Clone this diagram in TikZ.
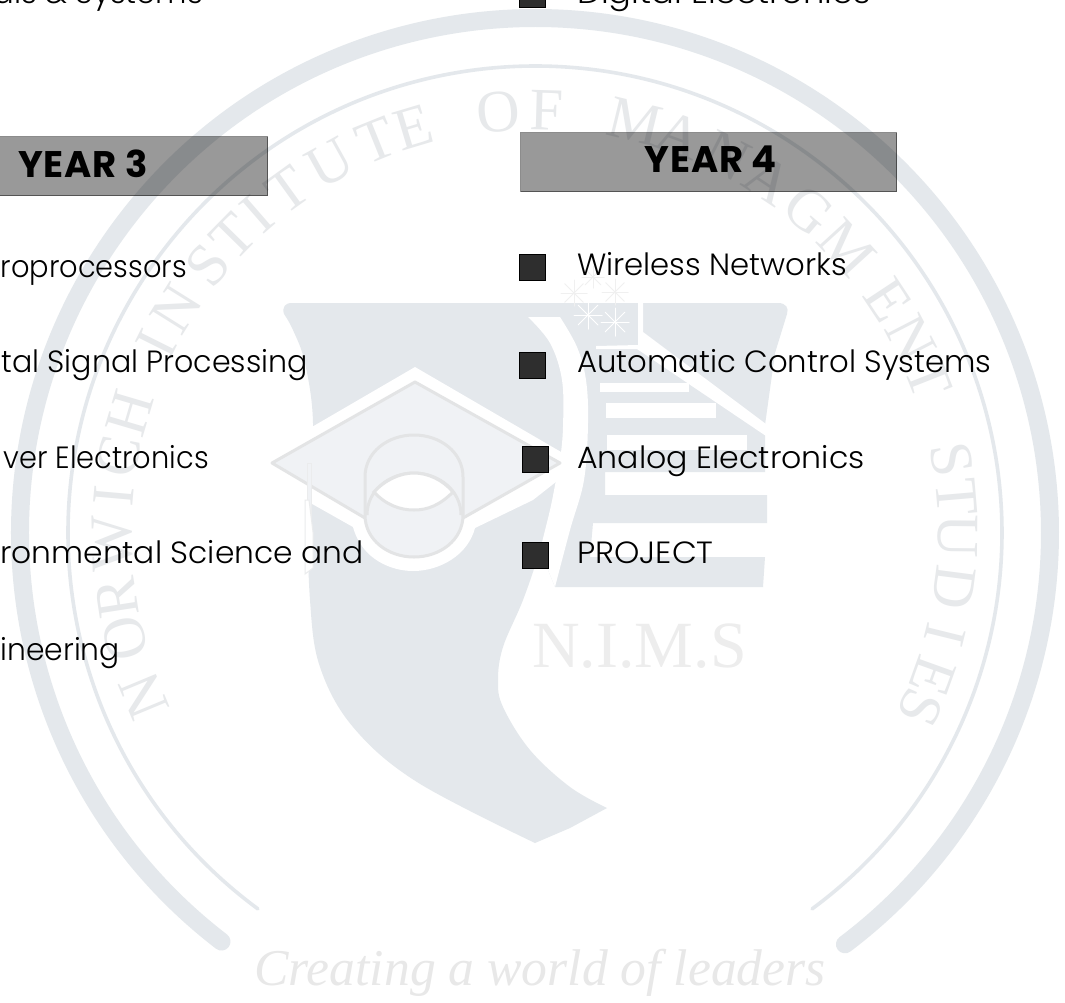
\documentclass[tikz,border=0pt]{standalone}
\usepackage{graphicx}
\usepackage{fontspec}
\usetikzlibrary{backgrounds,calc}
\setmainfont{Liberation Serif}
\newfontfamily\bodyfont[UprightFont={* Light},BoldFont={* Bold},LetterSpace=0]{Poppins}
\newfontfamily\yearfont[UprightFont={* Bold},LetterSpace=2]{Poppins}
\newcommand{\hfit}[2]{\scalebox{#1}[1]{#2}}
\definecolor{wm}{HTML}{E4E8EC}
\definecolor{wmtext}{HTML}{E7E9EB}
\definecolor{capfill}{HTML}{F0F2F5}
\definecolor{capline}{HTML}{E3E4E5}
\tikzset{
  ringline/.style={wm,line cap=round,line width=#1},
  sealletter/.style={inner sep=0pt,text=wmtext,font=\fontsize{60}{60}\selectfont},
  bartag/.style={draw=black!45,fill=black!40,line width=1pt,inner sep=0pt,anchor=north west},
  bul/.style={draw=black,fill=black!82,line width=1pt,inner sep=0pt,minimum width=26pt,minimum height=26pt},
  item/.style={inner sep=0pt,text=black,font=\bodyfont\fontsize{30.7}{31}\selectfont},
  yeartag/.style={inner sep=0pt,anchor=base,text=black,font=\yearfont\fontsize{37}{37}\selectfont},
  starray/.style={line width=1pt,line cap=round},
}
\begin{document}
\begin{tikzpicture}[x=1pt,y=-1pt]
\useasboundingbox (0,0) rectangle (1065,1002);
\clip (0,0) rectangle (1065,1002);
\fill[white] (0,0) rectangle (1065,1002);
% rings
\begin{scope}[y=1pt]
\draw[ringline=18pt] (535,-533) ++(232.5:515) arc[start angle=232.5,end angle=-53,radius=515];
\draw[ringline=3.6pt] (535,-533) ++(233.6:467) arc[start angle=233.6,end angle=-53.6,radius=467];
\foreach \l/\a [count=\i] in {N/202.6,O/194.5,R/188.8,W/181.4,I/175,C/169.5,H/163.5,I/153.5,N/148,S/140.7,T/135.5,I/131,T/125.8,U/119,T/112,E/106.7,O/95,F/88.4,M/76.3,A/70,N/63,A/56.5,G/49.6,M/42.4,E/33.5,N/27.4,T/21.5,S/10,T/4.9,U/-0.5,D/-7.4,I/-13.9,E/-19.8,S/-24.4}{
  \pgfmathsetmacro\ang{\a-90}
  \node[sealletter,rotate=\ang] (seal\i) at ($(535,-533)+(\a:423)$) {\l};
}
\end{scope}
% shield
\fill[wm] (400,303) -- (778,303) .. controls (786,303) and (789,308) .. (787,314) -- (775,353) -- (765,425) -- (765,472) -- (605,472) -- (605,495) -- (767,495) -- (767,523) -- (593,523) -- (590,557) -- (765,557) -- (763,587) -- (555,587) -- (540,550) -- (400,550) -- cycle;
\fill[wm] plot[smooth,tension=0.6] coordinates {(556,480) (550,510) (540,550) (523,600) (503,647) (498,680) (503,707) (530,750) (570,787) (607,808)}
  -- (570,828) -- (535,843)
  -- plot[smooth,tension=0.6] coordinates {(535,843) (417,782) (353,727) (320,667) (310,600) (308,507) (313,423) (305,363) (293,330) (284,314)} .. controls (282,307) and (285,303) .. (292,303) -- (556,303) -- cycle;
% swoosh and cuts
\fill[white] plot[smooth,tension=0.6] coordinates {(528,317) (550,343) (562,380) (563,427) (560,460) (556,480) (550,510) (540,550)}
  -- plot[smooth,tension=0.6] coordinates {(555,587) (570,530) (584,480) (588,423) (586,380) (577,347) (560,317)} -- cycle;
\fill[white] (638,303) -- (643,303) -- (643,332) -- (766,424) -- (766,436) -- (637,349) -- (596,349) -- (596,346) -- (638,345) -- cycle;
\fill[white] (600,383) rectangle (689,392);
\fill[white] (606,403) rectangle (716,418);
\fill[white] (607,435) rectangle (747,450);
% stars
\foreach \sx/\sy/\sr/\sc in {574/293/13/black!6,615/292/13/black!6,593/277/11/black!6,588/315/14/white,615/322/14/white}{
  \foreach \t in {0,45,...,315}{
    \draw[starray,\sc] (\sx,\sy) -- ++(\t:\sr);
  }
}
% cap
\fill[white] (415,367) -- (250,463) -- (252,470) -- (353,527) .. controls (362,560) and (392,571) .. (413,571) .. controls (440,571) and (468,555) .. (475,528) -- (533,500) -- (580,463) -- cycle;
\draw[capline,fill=capfill,line width=3pt,line join=round] (415,382) -- (272,463) -- (365,518) -- (463,518) -- (560,463) -- cycle;
\draw[capline,fill=capfill,line width=3pt] (365,515) -- (365,477) .. controls (365,452) and (388,435) .. (414,435) .. controls (440,435) and (463,452) .. (463,477) -- (463,515) .. controls (463,540) and (440,557) .. (414,557) .. controls (388,557) and (365,540) .. (365,515) -- cycle;
\draw[capline,line width=3pt] (367,515) .. controls (367,490) and (390,473) .. (414,473) .. controls (438,473) and (461,490) .. (461,515);
\draw[capline,fill=white,line width=3pt] (374,492) .. controls (385,480) and (400,473) .. (414,473) .. controls (428,473) and (443,480) .. (453,492) .. controls (440,505) and (428,510) .. (414,510) .. controls (400,510) and (386,505) .. (374,492) -- cycle;
\draw[capline!70,fill=capfill,line width=1pt] (307,463) rectangle (311,533);
\draw[capline!70,fill=white,line width=1pt] (305,500) -- (305,574) -- (313,568) -- (313,532) -- (309,500) -- cycle;
% watermark words
\node[inner sep=0pt,anchor=base west,text=black!7,font=\fontsize{66}{66}\selectfont] (nims) at (532,667) {N.I.M.S};
\node[inner sep=0pt,anchor=base,text=black!9,font=\itshape\fontsize{51.6}{52}\selectfont] (motto) at (540,985) {Creating a world of leaders};
% bars
\begin{scope}[blend mode=multiply]
\node[bartag,minimum width=280pt,minimum height=59pt] (bar3) at (-13,136) {};
\node[bartag,minimum width=376pt,minimum height=59pt] (bar4) at (520,132) {};
\end{scope}
\node[yeartag] (y3) at (83,177) {YEAR 3};
\node[yeartag] (y4) at (711,172) {YEAR 4};
% bullets
\node[bul] (b0) at (532,-6) {};
\node[bul] (b1) at (532,267) {};
\node[bul] (b2) at (532,365) {};
\node[bul] (b3) at (535,459) {};
\node[bul] (b4) at (535,555) {};
% left column
\node[item,anchor=base east] (l0) at (203,3) {als \& Systems};
\node[item,anchor=base east] (l1) at (187,277) {\hfit{0.94}{roprocessors}};
\node[item,anchor=base east] (l2) at (308,372) {\hfit{0.98}{tal Signal Processing}};
\node[item,anchor=base east] (l3) at (209,468) {\hfit{0.94}{ver Electronics}};
\node[item,anchor=base east] (l4) at (364,563) {\hfit{1.02}{ronmental Science and}};
\node[item,anchor=base east] (l5) at (120,660) {\hfit{0.97}{ineering}};
% right column
\node[item,anchor=base west] (r0) at (577,3) {\hfit{1.1}{Digital Electronics}};
\node[item,anchor=base west] (r1) at (577,275) {Wireless Networks};
\node[item,anchor=base west] (r2) at (577,372) {Automatic Control Systems};
\node[item,anchor=base west] (r3) at (577,468) {\hfit{1.03}{Analog Electronics}};
\node[item,anchor=base west] (r4) at (577,563) {\hfit{1.05}{PROJECT}};
\end{tikzpicture}
\end{document}
